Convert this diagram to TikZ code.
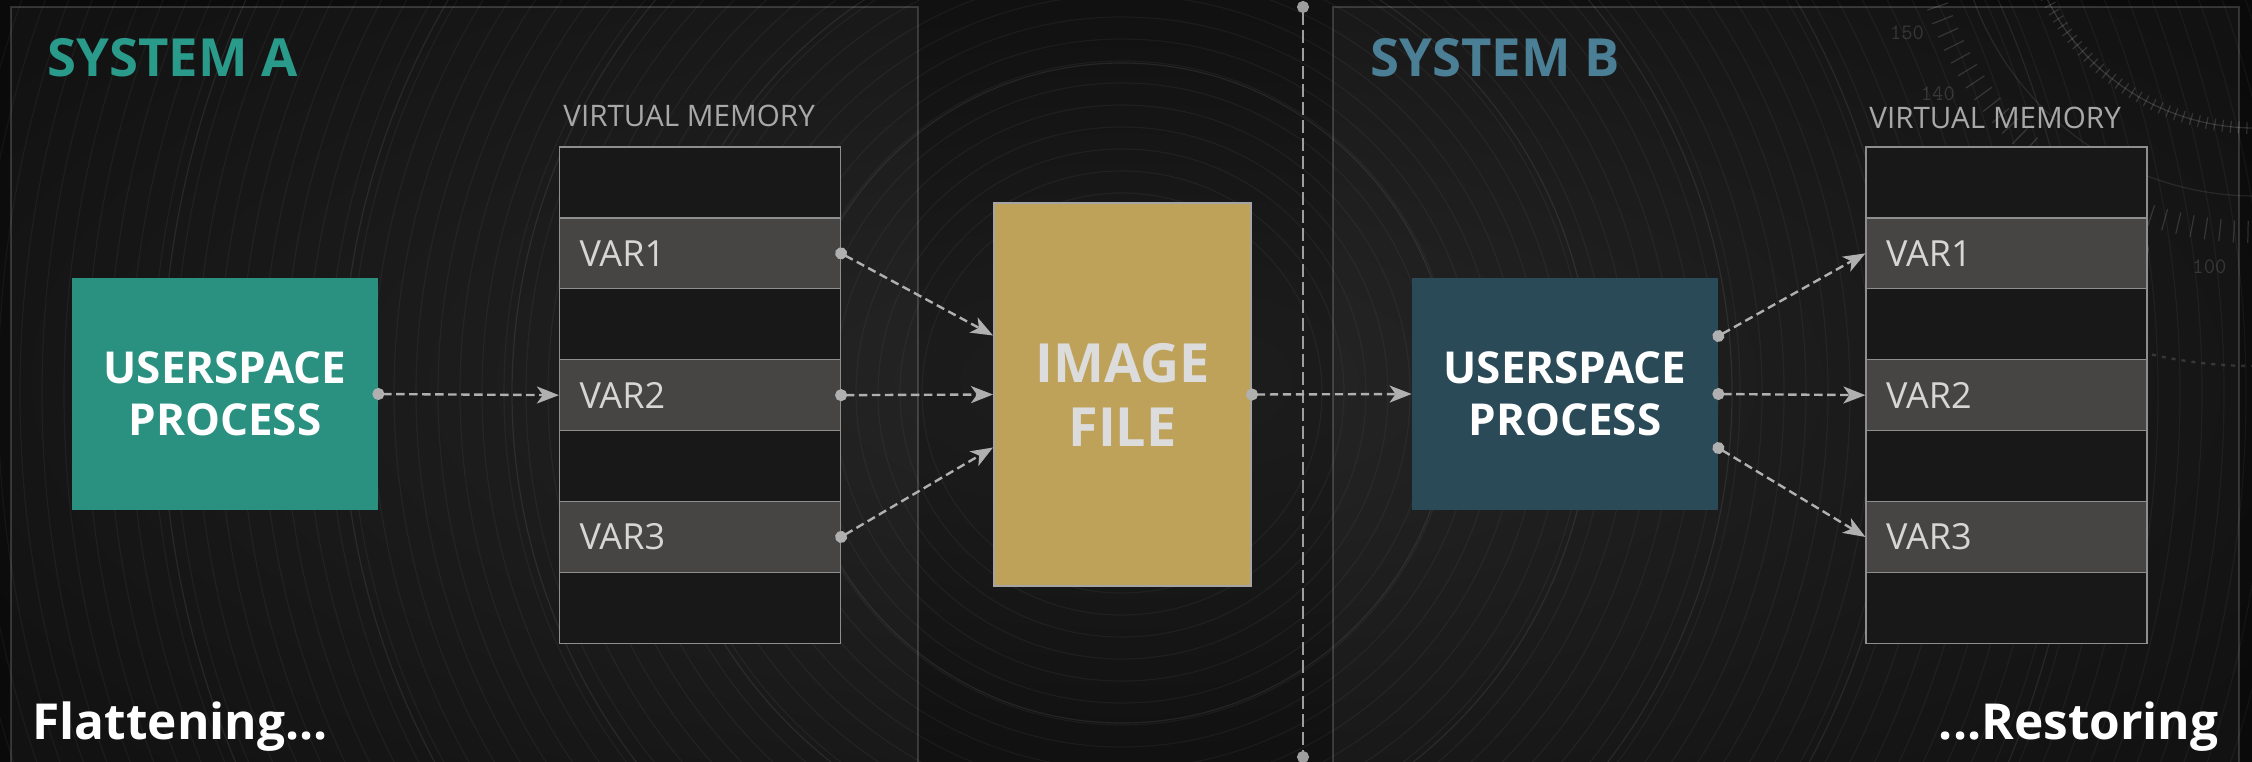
\documentclass[tikz,border=0pt]{standalone}
\usepackage{fontspec}
\setmainfont{Open Sans}
\usetikzlibrary{arrows.meta,calc}

\definecolor{bgin}{HTML}{1E1E1E}
\definecolor{bgout}{HTML}{0A0A0A}
\definecolor{tealbox}{HTML}{2A9080}
\definecolor{tealtext}{HTML}{2A9A8A}
\definecolor{bluebox}{HTML}{2B4A58}
\definecolor{bluetext}{HTML}{4A7F96}
\definecolor{goldbox}{HTML}{BFA25A}
\definecolor{imgborder}{HTML}{A4A4A4}
\definecolor{varfill}{HTML}{474543}
\definecolor{rowline}{HTML}{8E8E8E}
\definecolor{emptyfill}{HTML}{181818}
\definecolor{connector}{HTML}{B0B0B0}
\definecolor{labelgrey}{HTML}{A8A8A8}
\definecolor{vartext}{HTML}{D6D6D6}
\definecolor{imgtext}{HTML}{DCDCDC}

\tikzset{
  panel/.style={fill=white, fill opacity=0.035, draw=white, draw opacity=0.16, line width=0.6pt},
  ring/.style={draw=white, draw opacity=0.045, line width=0.6pt},
  dialmark/.style={draw=white, draw opacity=0.14, line width=0.6pt},
  process/.style={minimum width=153pt, minimum height=116pt, inner sep=0pt,
    align=center, text=white, font=\fontsize{22}{26}\selectfont\bfseries},
  imagebox/.style={minimum width=128.5pt, minimum height=191.5pt, inner sep=0pt,
    fill=goldbox, draw=imgborder, line width=1pt, align=center, text=imgtext,
    font=\fontsize{27}{32}\selectfont\bfseries},
  emptyrow/.style={minimum width=140.5pt, minimum height=35.45pt, inner sep=0pt,
    fill=emptyfill, draw=rowline, line width=0.6pt},
  varrow/.style={emptyrow, fill=varfill, text width=120.5pt, inner xsep=10pt,
    align=left, text=vartext, font=\fontsize{18}{20}\selectfont},
  systitle/.style={anchor=base west, inner sep=0pt, font=\fontsize{26.3}{32}\selectfont\bfseries},
  memlabel/.style={anchor=base west, inner sep=0pt, text=labelgrey, font=\fontsize{14.8}{18}\selectfont},
  phase/.style={inner sep=0pt, text=white, font=\fontsize{24.8}{28}\selectfont\bfseries},
  dialnum/.style={text=white, opacity=0.14, inner sep=0pt, font=\ttfamily\fontsize{11}{11}\selectfont},
  link/.style={draw=connector, line width=1.2pt, dash pattern=on 4.2pt off 2.3pt,
    {Circle[length=6pt,sep=-3pt]}-{Stealth[length=11pt,width=8.5pt,inset=3pt]}},
  divider/.style={draw=connector!90!black, line width=1.1pt, dash pattern=on 6.5pt off 2.5pt,
    {Circle[length=6pt,sep=-3pt]}-{Circle[length=6pt,sep=-3pt]}},
}

\begin{document}
\begin{tikzpicture}[x=0.5pt,y=-0.5pt]
\useasboundingbox (0,0) rectangle (2252,761);
\clip (0,0) rectangle (2252,761);

% dark vignetted backdrop
\shade[inner color=bgin, outer color=bgout] (-200,-200) rectangle (2452,961);

% record-like grooves around the image file
\foreach \r in {200,222,...,1400} {
  \draw[ring] (1122,393) circle (\r);
}
\foreach \r in {330,470,610,780,960} {
  \draw[ring, draw opacity=0.08] (1122,393) circle (\r);
}

% dial in the upper right corner
\coordinate (dialc) at (2255,-104);
\begin{scope}[shift={(dialc)}]
  \foreach \a in {84,86.4,...,172} {
    \draw[dialmark] (\a:325) -- (\a:347);
  }
  \foreach \a in {60,62,...,176} {
    \draw[dialmark] (\a:226) -- (\a:238);
  }
  \draw[dialmark] (60:232) arc[start angle=60, end angle=176, radius=232];
  \draw[dialmark, draw opacity=0.09] (70:300) arc[start angle=70, end angle=172, radius=300];
  \draw[dialmark, dash pattern=on 2pt off 3pt, line width=1.2pt] (40:470) arc[start angle=40, end angle=110, radius=470];
\end{scope}
\foreach \a/\n in {97/100,109/110,121.5/120,133.5/130,148/140,158.5/150} {
  \node[dialnum] (dial\n) at ($(dialc)+(\a:374)$) {\n};
}

% the two systems
\draw[panel] (11,7) rectangle (918,800);
\draw[panel] (1333,7) rectangle (2239,800);

% boundary between the systems
\coordinate (divtop) at (1303,7);
\coordinate (divbot) at (1303,757);
\draw[divider] (divtop) -- (divbot);

% titles
\node[systitle, text=tealtext] (titleA) at (47,76) {SYSTEM A};
\node[systitle, text=bluetext] (titleB) at (1370,76) {SYSTEM B};
\node[memlabel] (memA) at (563,126) {VIRTUAL MEMORY};
\node[memlabel] (memB) at (1869,128) {VIRTUAL MEMORY};

% virtual memory stacks
\foreach \s/\cx in {a/700, b/2006.5} {
  \foreach \i in {0,2,4,6} {
    \node[emptyrow] (\s\i) at (\cx,{147+70.9*(\i+0.5)}) {};
  }
  \node[varrow] (\s1) at (\cx,{147+70.9*1.5}) {VAR1};
  \node[varrow] (\s3) at (\cx,{147+70.9*3.5}) {VAR2};
  \node[varrow] (\s5) at (\cx,{147+70.9*5.5}) {VAR3};
}

% processes and the image file
\node[process, fill=tealbox] (pa) at (225,394) {USERSPACE\\PROCESS};
\node[process, fill=bluebox] (pb) at (1565,394) {USERSPACE\\PROCESS};
\node[imagebox] (img) at (1122.5,394.5) {IMAGE\\FILE};

% flattening: process -> memory -> image
\draw[link] (pa.east) -- (a3.west);
\draw[link] (a1.east) -- ($(img.west)+(0,-59)$);
\draw[link] (a3.east) -- (img.west);
\draw[link] (a5.east) -- ($(img.west)+(0,53)$);

% transfer to the second system
\draw[link] (img.east) -- (pb.west);

% restoring: process -> memory
\draw[link] ($(pb.east)+(0,-58)$) -- (b1.west);
\draw[link] (pb.east) -- (b3.west);
\draw[link] ($(pb.east)+(0,54)$) -- (b5.west);

% phase captions
\node[phase, anchor=base west] (flat) at (32,739) {Flattening...};
\node[phase, anchor=base east] (rest) at (2219,739) {...Restoring};
\end{tikzpicture}
\end{document}
